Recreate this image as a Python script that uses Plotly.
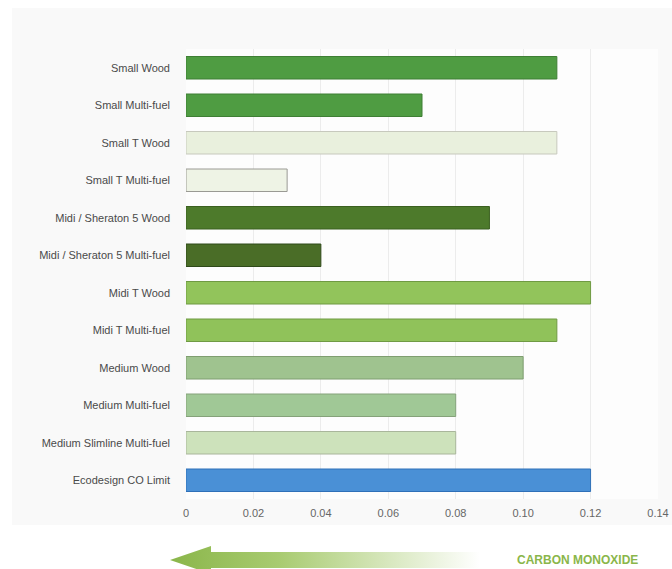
import base64

import plotly.graph_objects as go

# Data
stoves = [
    "Small Wood",
    "Small Multi-fuel",
    "Small T Wood",
    "Small T Multi-fuel",
    "Midi / Sheraton 5 Wood",
    "Midi / Sheraton 5 Multi-fuel",
    "Midi T Wood",
    "Midi T Multi-fuel",
    "Medium Wood",
    "Medium Multi-fuel",
    "Medium Slimline Multi-fuel",
    "Ecodesign CO Limit",
]
co_values = [0.11, 0.07, 0.11, 0.03, 0.09, 0.04, 0.12, 0.11, 0.10, 0.08, 0.08, 0.12]
bar_colors = [
    "#4f9c42", "#4f9c42", "#e9f0dd", "#eef3e5", "#4d7a2b", "#4a6d27",
    "#92c45b", "#90c25a", "#9fc38f", "#a0c896", "#cde2bb", "#4a90d6",
]
edge_colors = [
    "#3f7f35", "#3f7f35", "#c7c9bd", "#9a9a94", "#3b6020", "#2f4a1a",
    "#6f9a43", "#6f9a43", "#7f9e70", "#85a27a", "#a9b69b", "#2f70b8",
]
tick_vals = [0, 0.02, 0.04, 0.06, 0.08, 0.10, 0.12, 0.14]
tick_text = ["0", "0.02", "0.04", "0.06", "0.08", "0.10", "0.12", "0.14"]

W, H = 672, 569
ML, MR, MT, MB = 186, 14, 49, 70
PW, PH = W - ML - MR, H - MT - MB


def px_x(p):
    return (p - ML) / PW


def px_y(p):
    return (H - MB - p) / PH


# gradient arrow drawn as an inline svg image
arrow_svg = """<svg xmlns='http://www.w3.org/2000/svg' width='310' height='29' viewBox='0 0 310 29'>
<defs><linearGradient id='g' x1='0' y1='0' x2='1' y2='0'>
<stop offset='0' stop-color='#8ab64a'/><stop offset='0.35' stop-color='#a8cb70'/>
<stop offset='1' stop-color='#ffffff'/></linearGradient></defs>
<polygon points='0,20 41,6 41,12 310,12 310,28 41,28 41,34' fill='url(#g)'/></svg>"""
arrow_src = "data:image/svg+xml;base64," + base64.b64encode(arrow_svg.encode()).decode()

fig = go.Figure(go.Bar(
    x=co_values,
    y=stoves,
    orientation="h",
    width=0.6,
    marker=dict(color=bar_colors, line=dict(color=edge_colors, width=1)),
    hoverinfo="x+y",
))

fig.update_layout(
    width=W,
    height=H,
    margin=dict(l=ML, r=MR, t=MT, b=MB),
    paper_bgcolor="white",
    plot_bgcolor="rgba(0,0,0,0)",
    showlegend=False,
    font=dict(family="Liberation Sans, Arial, sans-serif", color="#444", size=11),
    xaxis=dict(
        range=[0, 0.14],
        tickvals=tick_vals,
        ticktext=tick_text,
        showgrid=True,
        gridcolor="#ececec",
        zeroline=False,
        tickfont=dict(color="#666", size=11),
        ticks="",
        ticklabeloverflow="allow",
        ticklabelstandoff=6,
        automargin=False,
    ),
    yaxis=dict(
        autorange="reversed",
        showgrid=False,
        ticks="",
        ticklabelstandoff=15,
        tickfont=dict(color="#4a4a4a", size=11),
        automargin=False,
    ),
    shapes=[
        dict(type="rect", xref="paper", yref="paper",
             x0=px_x(12), x1=px_x(672), y0=px_y(525), y1=px_y(8),
             fillcolor="#f9f9f9", line=dict(width=0), layer="below"),
        dict(type="rect", xref="paper", yref="paper",
             x0=0, x1=1, y0=0, y1=1,
             fillcolor="#fdfdfd", line=dict(width=0), layer="below"),
    ],
    images=[dict(
        source=arrow_src, xref="paper", yref="paper",
        x=px_x(170), y=px_y(540), sizex=310 / PW, sizey=29 / PH,
        xanchor="left", yanchor="top", sizing="stretch", layer="above",
    )],
    annotations=[dict(
        text="<b>CARBON MONOXIDE</b>", xref="paper", yref="paper",
        x=px_x(640), y=px_y(560), xanchor="right", yanchor="middle",
        showarrow=False, font=dict(color="#8ab64a", size=12),
    )],
)

# drop the default body margin so the figure sits at the page corner
fig.write_html("out.html", config={"displayModeBar": False},
               post_script="document.body.style.margin='0';")
